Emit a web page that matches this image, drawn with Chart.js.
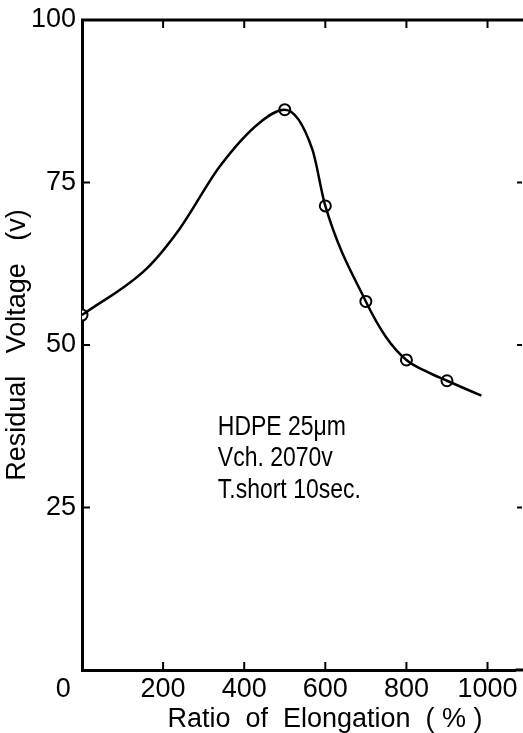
<!DOCTYPE html>
<html lang="en">

<head>
    <meta charset="UTF-8">
    <title>Residual Voltage vs Elongation</title>
    <script src="https://cdn.jsdelivr.net/npm/chart.js@4/dist/chart.umd.min.js"></script>
    <style>
        html, body {
            margin: 0;
            background: #fff;
            overflow: hidden;
        }

        .box {
            width: 523px;
            height: 733px;
        }
    </style>
</head>

<body>
    <div class="box"><canvas id="myChart"></canvas></div>
    <script>
        // measured points (open circles)
        const ratio = [0, 500, 600, 700, 800, 900]
        const voltage = [54.6, 86.2, 71.4, 56.7, 47.7, 44.5]

        // smooth curve
        const curveRatio = [0, 160, 241, 340, 438, 500, 568, 600, 700, 750, 800, 850, 900, 985]
        const curveVoltage = [54.6, 61.8, 67.9, 77.5, 84.2, 86.2, 80.1, 71.4, 56.7, 51.2, 47.7, 45.9, 44.5, 42.2]

        const xTicks = [0, 200, 400, 600, 800, 1000]
        const yTicks = [25, 50, 75, 100]

        const note = ['HDPE 25\u03bcm', 'Vch. 2070v', 'T.short 10sec.']

        const FONT = '"Liberation Sans", Arial, sans-serif'

        // frame on top + inward tick marks on all four sides, plus the text block
        const frame = {
            id: 'frame',
            afterDraw(chart) {
                const ctx = chart.ctx
                const a = chart.chartArea
                const xs = chart.scales.x, ys = chart.scales.y
                const edge = chart.width
                ctx.save()
                ctx.strokeStyle = '#000'
                ctx.lineWidth = 3
                ctx.beginPath()
                ctx.moveTo(a.left - 1, a.top)
                ctx.lineTo(edge, a.top)
                ctx.moveTo(a.right, a.bottom)
                ctx.lineTo(edge, a.bottom)
                ctx.stroke()
                ctx.lineWidth = 2
                ctx.beginPath()
                xTicks.forEach(v => {
                    if (v === 0) return
                    const px = xs.getPixelForValue(v)
                    ctx.moveTo(px, a.bottom)
                    ctx.lineTo(px, a.bottom - 8)
                    ctx.moveTo(px, a.top)
                    ctx.lineTo(px, a.top + 8)
                })
                yTicks.forEach(v => {
                    if (v === 100) return
                    const py = ys.getPixelForValue(v)
                    ctx.moveTo(a.left, py)
                    ctx.lineTo(a.left + 8, py)
                    ctx.moveTo(edge - 1, py)
                    ctx.lineTo(edge - 6, py)
                })
                ctx.stroke()

                ctx.fillStyle = '#000'
                ctx.font = '28px ' + FONT
                ctx.textBaseline = 'middle'
                const nx = xs.getPixelForValue(335)
                note.forEach((t, i) => {
                    ctx.save()
                    ctx.translate(nx, ys.getPixelForValue(37.3 - i * 4.8))
                    ctx.scale(0.82, 1)
                    ctx.fillText(t, 0, 0)
                    ctx.restore()
                })
                ctx.restore()
            }
        }

        new Chart('myChart', {
            type: 'scatter',
            data: {
                datasets: [{
                    type: 'line',
                    data: curveRatio.map((x, i) => ({ x: x, y: curveVoltage[i] })),
                    borderColor: '#000',
                    borderWidth: 2.5,
                    pointRadius: 0,
                    cubicInterpolationMode: 'monotone',
                    fill: false
                }, {
                    data: ratio.map((x, i) => ({ x: x, y: voltage[i] })),
                    pointRadius: 5.5,
                    pointBorderWidth: 2,
                    pointBorderColor: '#000',
                    pointBackgroundColor: '#fff'
                }]
            },
            options: {
                responsive: true,
                maintainAspectRatio: false,
                animation: false,
                layout: { padding: { top: 20, right: 0, left: 0, bottom: 0 } },
                plugins: { legend: { display: false }, tooltip: { enabled: false } },
                scales: {
                    x: {
                        type: 'linear',
                        min: 0,
                        max: 1069,
                        afterBuildTicks: s => { s.ticks = xTicks.map(v => ({ value: v })) },
                        afterFit: s => { s.height = 63; s.paddingLeft = 0; s.paddingRight = 0 },
                        grid: { display: false, drawTicks: false },
                        border: { display: true, color: '#000', width: 3 },
                        ticks: {
                            color: '#000', padding: 6, maxRotation: 0,
                            callback: v => v === 0 ? '0     ' : String(v),
                            font: { family: FONT, size: 27, lineHeight: 1 }
                        },
                        title: {
                            display: true, text: '       Ratio  of  Elongation  ( % )', color: '#000',
                            padding: { top: 2, bottom: 0 },
                            font: { family: FONT, size: 27, lineHeight: 1 }
                        }
                    },
                    y: {
                        min: 0,
                        max: 100,
                        afterBuildTicks: s => { s.ticks = yTicks.map(v => ({ value: v })) },
                        afterFit: s => { s.width = 82 },
                        grid: { display: false, drawTicks: false },
                        border: { display: true, color: '#000', width: 3 },
                        ticks: { color: '#000', padding: 6, font: { family: FONT, size: 27, lineHeight: 1 } },
                        title: {
                            display: true, text: 'Residual   Voltage   (v)', color: '#000',
                            padding: { top: 4, bottom: 0 },
                            font: { family: FONT, size: 27, lineHeight: 1 }
                        }
                    }
                }
            },
            plugins: [frame]
        })
    </script>
</body>

</html>
